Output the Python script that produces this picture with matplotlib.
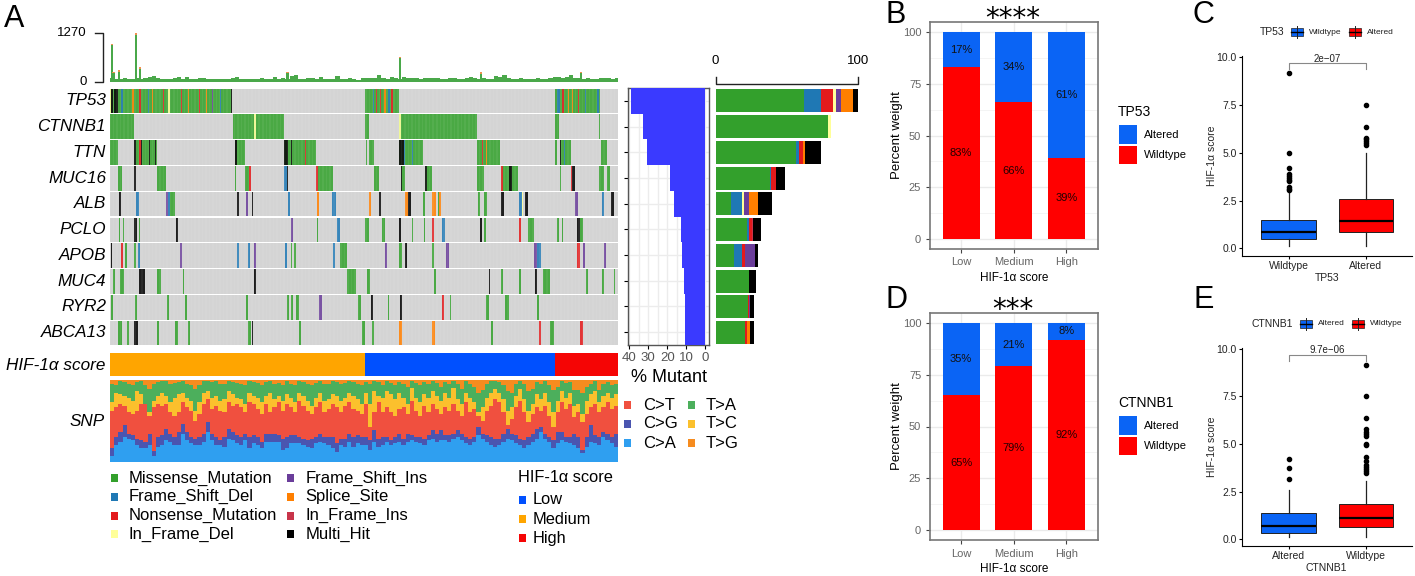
import matplotlib
matplotlib.use('Agg')
import matplotlib.pyplot as plt
from matplotlib.patches import Rectangle
import numpy as np

plt.rcParams['font.family'] = ['Liberation Sans', 'DejaVu Sans']

W, H = 1415, 576

# ── oncoplot data ──
GENES = ['TP53', 'CTNNB1', 'TTN', 'MUC16', 'ALB', 'PCLO', 'APOB', 'MUC4', 'RYR2', 'ABCA13']
N_SAMPLES = 365
PCT_MUTANT = [39.3, 33, 30.8, 18.5, 16.2, 12.7, 12, 10.9, 10.7, 10.6]

VARIANTS = ['Missense_Mutation', 'Frame_Shift_Del', 'Nonsense_Mutation', 'In_Frame_Del',
            'Frame_Shift_Ins', 'Splice_Site', 'In_Frame_Ins', 'Multi_Hit']
VAR_COLORS = ['#33a02c', '#1f78b4', '#e31a1c', '#ffff99', '#6a3d9a', '#ff7f00', '#c8344a', '#000000']
MS, DL, NS, IFD, FSI, SS, IFI, MH = range(8)

# per gene: (first sample, last sample, variant)
RUNS = {
    'TP53': [(0, 88, MS), (183, 208, MS), (320, 352, MS), (0, 1, IFD), (1, 2, MH), (3, 6, MH), (8, 9, DL),
             (16, 17, SS), (21, 22, NS), (27, 28, DL), (30, 31, SS), (38, 39, NS), (42, 43, IFD), (51, 52, NS),
             (56, 57, SS), (64, 65, NS), (69, 70, SS), (73, 74, FSI), (79, 80, DL), (87, 88, MH), (189, 190, DL),
             (191, 192, NS), (194, 195, NS), (197, 198, SS), (200, 201, DL), (202, 203, NS), (321, 323, DL),
             (325, 326, NS), (329, 330, SS), (332, 333, SS), (336, 337, NS), (341, 342, DL), (350, 351, DL)],
    'CTNNB1': [(0, 17, MS), (88.6, 125, MS), (103.6, 104.6, IFD), (183, 186, MS), (208, 264, MS), (208, 209, IFD),
               (319.5, 322.5, MS), (351, 352, MS)],
    'TTN': [(0, 6, MS), (17, 33.5, MS), (17, 19, MH), (21, 22, NS), (22, 23, MH), (28, 29, MH), (32, 33, MH),
            (89.5, 97, MS), (89.5, 91.5, MH), (125, 148, MS), (125, 128, MH), (130, 131, MH), (140, 141, NS),
            (184, 185, MS), (186, 190, MS), (208, 225, MS), (208, 211, MH), (211, 212, DL), (217, 218, DL),
            (264, 280, MS), (267, 268, NS), (270, 271, SS), (320, 321, MS), (323, 331, MS), (323, 324, MH),
            (326, 327, DL), (353, 357, MS)],
    'MUC16': [(6, 8.5, MS), (17.6, 18.6, MH), (33.5, 40, MS), (89.5, 90.5, MS), (97, 100, MS), (100, 101, NS),
              (125, 127, DL), (127, 128, MH), (148, 149.5, NS), (149.5, 160, MS), (190, 193, MS), (209, 212, MS),
              (209, 210, MH), (226, 231, MS), (226, 228, MH), (264, 269, MS), (281, 293, MS), (281, 282.5, NS),
              (287, 289, MH), (323, 324, MS), (331, 332, NS), (332, 334, MH), (351.5, 355, MS), (357, 359, MS)],
    'ALB': [(6.5, 8, MH), (19, 20.5, DL), (40.5, 42, FSI), (42, 43, DL), (43, 46.5, MS), (91, 93, MH), (97.5, 99, FSI),
            (102, 103, MH), (128, 129, DL), (148.5, 150.5, SS), (159.5, 162.5, DL), (186, 187.5, SS), (193.5, 194.5, MH),
            (212, 214, SS), (214, 216, MH), (225, 226, MS), (231.5, 234.5, SS), (235.7, 236.5, MS), (236.5, 237.5, SS),
            (264.7, 266, MS), (269, 271, MS), (280.6, 283, MH), (294, 296, DL), (296, 297, IFD), (298, 300.5, MH),
            (334, 336, FSI), (353.5, 355, DL), (360, 362, MH)],
    'PCLO': [(6.5, 7.5, MS), (9, 10, MS), (17.5, 19.5, MH), (20.5, 21.5, MS), (47.5, 49, MH), (130, 131.5, FSI),
             (148.5, 149.5, MS), (163, 165, DL), (183, 186, MS), (195.5, 197.5, MS), (208, 209, MH), (217, 218, MS),
             (225.5, 226.5, MS), (231.5, 232.5, NS), (238.5, 240.5, DL), (266, 267.5, MH), (269, 270, MS), (294, 295, NS),
             (300.5, 305, MS), (321.5, 322.5, MS), (324.5, 325.5, MS), (335.5, 338, MH), (338, 339.5, MS)],
    'APOB': [(0.5, 1.5, MH), (8, 9.5, NS), (10.5, 12, MS), (17.5, 19, MS), (20, 21.5, DL), (50, 52, FSI), (91, 92.5, DL),
             (99, 100.5, DL), (103.5, 105, FSI), (125.5, 127.5, DL), (130, 131, MS), (132.5, 134, MS), (160.5, 162, DL),
             (165.5, 170, MS), (197.5, 199, FSI), (208, 209.5, MS), (212, 213.5, MH), (231.5, 232.5, MS), (241.5, 243.5, FSI),
             (305, 307, FSI), (307, 310, DL), (335.5, 337.5, NS), (340, 341.5, FSI), (355, 356.5, FSI)],
    'MUC4': [(2, 3.5, MS), (7.5, 10, MS), (20.5, 25, MH), (33.5, 36.5, MS), (52.5, 53.5, MS), (103.5, 105, MH),
             (170.5, 177, MS), (185, 186.5, MS), (232.5, 234, MS), (272, 273, MH), (281, 282.5, MS), (294, 295.5, MS),
             (305.5, 307, MH), (311, 316, MS), (342, 343.5, MS), (353.5, 355, MS), (362, 363, MS)],
    'RYR2': [(0.5, 2, MS), (18, 19.5, MS), (41, 42.5, MS), (54, 55.5, MS), (98, 99.5, MS), (127, 128.5, MS),
             (130, 131.5, MS), (134, 135.5, MS), (150.5, 152.5, FSI), (178, 180, MS), (187.5, 189, MH), (199.5, 200.5, MS),
             (208.5, 209.5, MH), (238.5, 240, NS), (244, 245, MS), (270.5, 272, MS), (283.5, 287, MS), (306.5, 308, MS)],
    'ABCA13': [(6, 8.5, MS), (12, 13.5, MS), (17.5, 20, MH), (34, 35.5, MS), (47, 48.5, MS), (56, 57.5, MS), (99.5, 101, MS),
               (102, 103, MH), (135.5, 137, MS), (181, 183, MS), (188, 189.5, MS), (208, 209.5, SS), (231.5, 233.5, SS),
               (273.5, 275, MS), (308, 309.5, NS), (316.5, 319, MS), (337.5, 339.5, NS)],
}

# percent of samples by variant, same order as VARIANTS
MISSENSE_PCT = [61.8, 78.9, 56.2, 37.9, 10.5, 21.8, 12.6, 23.7, 22.7, 20.6]
FS_DEL_PCT = [12, 0, 2.3, 0.7, 8, 1.9, 5.9, 0, 0, 0]
NONSENSE_PCT = [8.9, 0, 2.8, 4, 0, 1.9, 2.1, 0, 0.9, 1.4]
IF_DEL_PCT = [1.8, 2.1, 0, 0, 1.6, 0, 0, 0, 0, 0]
FS_INS_PCT = [3.3, 0, 0, 0, 3.5, 0, 7.3, 0, 0.7, 0]
SPLICE_PCT = [8.5, 0, 1.4, 0, 6, 0, 0, 0, 0, 2.3]
IF_INS_PCT = [0.5, 0, 0, 0, 0, 0.9, 0, 0, 0, 0]
MULTI_PCT = [3.2, 0, 11.2, 6.1, 10, 5.2, 1.9, 4.9, 2.6, 2.6]
VAR_PCT = [MISSENSE_PCT, FS_DEL_PCT, NONSENSE_PCT, IF_DEL_PCT, FS_INS_PCT, SPLICE_PCT, IF_INS_PCT, MULTI_PCT]

# mutation load, bins of 3 samples, plus the single tall samples
TMB_BINS = [100, 90, 80, 110, 90, 85, 100, 90, 105, 130, 160, 100, 90, 80, 85, 100, 125, 90, 135, 90,
            85, 100, 110, 90, 80, 75, 85, 90, 80, 100, 135, 90, 80, 70, 85, 90, 100, 80, 90, 135,
            85, 110, 90, 160, 170, 90, 80, 100, 95, 75, 130, 85, 80, 90, 160, 90, 90, 105, 80, 60,
            100, 105, 110, 100, 170, 105, 90, 130, 100, 90, 140, 110, 100, 105, 90, 100, 110, 95, 100, 90,
            85, 110, 95, 80, 90, 100, 140, 105, 90, 100, 80, 90, 160, 130, 170, 100, 90, 80, 110, 90,
            65, 90, 100, 80, 90, 110, 135, 125, 100, 140, 170, 110, 100, 90, 100, 90, 85, 105, 110, 100, 90, 100]
SPIKE_SAMPLES = [1, 2, 6, 18, 21, 127, 208, 266, 338]
SPIKE_VALUES = [950, 230, 260, 1230, 340, 230, 610, 220, 225]

# SNP tops of the stacked classes in percent, bins of 3 samples
SNP_CA_TOP = [7, 20, 24, 30, 28, 26, 20, 16, 16, 20, 7, 18, 20, 26, 24, 20, 20, 34, 26, 22, 20, 20, 24, 36, 26, 20, 20, 18, 28, 26, 22,
              20, 26, 16, 22, 20, 16, 24, 24, 24, 24, 14, 16, 22, 22, 22, 20, 18, 16, 22, 24, 22, 20, 16, 12, 20, 18, 24, 18, 22, 20,
              20, 14, 24, 18, 20, 24, 20, 22, 24, 20, 24, 26, 24, 22, 20, 26, 28, 24, 26, 26, 24, 28, 30, 26, 22, 20, 24, 32, 28, 24,
              20, 18, 20, 24, 28, 26, 22, 20, 16, 20, 24, 28, 36, 28, 24, 16, 22, 26, 24, 22, 20, 16, 10, 18, 24, 22, 20, 30, 26, 22, 18]
SNP_CG_TOP = [17, 30, 36, 44, 33, 32, 28, 26, 24, 34, 13, 30, 32, 40, 34, 30, 36, 46, 36, 30, 28, 30, 34, 48, 34, 30, 26, 30, 40, 36, 32,
              30, 34, 30, 32, 30, 24, 33, 33, 33, 32, 28, 30, 32, 32, 30, 28, 26, 28, 30, 34, 30, 30, 30, 22, 28, 28, 34, 30, 32, 30,
              30, 26, 38, 28, 30, 30, 26, 30, 34, 28, 34, 32, 30, 30, 28, 32, 38, 34, 38, 32, 32, 34, 38, 34, 30, 28, 30, 42, 34, 32,
              30, 28, 28, 34, 40, 34, 32, 28, 26, 30, 34, 40, 42, 34, 30, 26, 36, 36, 30, 30, 34, 30, 14, 30, 44, 32, 30, 36, 34, 30, 34]
SNP_CT_TOP = [62, 66, 70, 68, 60, 58, 62, 70, 72, 56, 66, 70, 68, 70, 60, 56, 60, 72, 66, 62, 50, 58, 70, 76, 64, 68, 62, 60, 72, 68, 70,
              66, 60, 72, 70, 64, 58, 70, 60, 66, 72, 62, 70, 66, 60, 74, 68, 62, 58, 66, 72, 60, 64, 70, 66, 60, 68, 72, 64, 62, 58,
              70, 42, 60, 72, 60, 66, 60, 56, 64, 66, 58, 74, 62, 56, 68, 60, 70, 64, 58, 66, 62, 70, 62, 56, 72, 60, 64, 56, 50, 62,
              68, 76, 72, 60, 44, 52, 66, 74, 60, 48, 58, 66, 62, 68, 56, 42, 60, 72, 64, 70, 54, 60, 48, 58, 66, 70, 60, 66, 72, 64, 68]
SNP_TC_TOP = [72, 84, 82, 80, 78, 74, 86, 82, 70, 60, 74, 80, 84, 80, 72, 78, 82, 84, 78, 74, 62, 72, 84, 86, 78, 80, 74, 76, 86, 82, 78,
              76, 70, 84, 80, 78, 72, 80, 84, 76, 80, 74, 82, 78, 72, 84, 80, 74, 68, 78, 84, 74, 76, 82, 80, 74, 78, 84, 80, 76, 70,
              84, 70, 86, 80, 78, 86, 82, 76, 84, 78, 70, 90, 78, 72, 82, 78, 86, 80, 74, 84, 78, 90, 76, 70, 84, 78, 72, 60, 66, 78,
              84, 88, 84, 76, 62, 66, 80, 88, 76, 62, 70, 82, 76, 84, 72, 60, 74, 86, 78, 84, 68, 70, 58, 74, 82, 86, 72, 80, 84, 78, 82]
SNP_TA_TOP = [95, 93, 98, 97, 95, 93, 97, 98, 93, 88, 95, 97, 98, 98, 95, 96, 97, 98, 95, 93, 88, 93, 98, 98, 97, 98, 95, 95, 98, 97, 96,
              95, 93, 98, 97, 96, 93, 97, 98, 95, 96, 93, 98, 95, 93, 98, 97, 94, 93, 96, 98, 95, 95, 98, 97, 95, 96, 98, 97, 95, 93,
              97, 95, 98, 97, 93, 98, 96, 93, 97, 95, 91, 98, 96, 93, 97, 95, 98, 96, 91, 97, 95, 98, 95, 89, 98, 95, 91, 84, 87, 95,
              98, 98, 97, 93, 86, 84, 95, 98, 95, 86, 89, 97, 95, 98, 93, 87, 91, 98, 96, 97, 87, 87, 84, 91, 95, 98, 87, 95, 97, 93, 95]
SNP_TOPS = [SNP_CA_TOP, SNP_CG_TOP, SNP_CT_TOP, SNP_TC_TOP, SNP_TA_TOP]
SNP_LABELS = ['C>A', 'C>G', 'C>T', 'T>C', 'T>A', 'T>G']
SNP_COLORS = ['#2f9ff0', '#4a55b0', '#f0503f', '#fbc02d', '#4caf5c', '#f68c1f']

HIF_GROUPS = ['Medium', 'Low', 'High']
HIF_COUNTS = [183, 137, 45]
HIF_COLORS = {'Low': '#0050ff', 'Medium': '#ffa500', 'High': '#f50505'}

# ── B / D data ──
SCORE_CATS = ['Low', 'Medium', 'High']
TP53_ALTERED = [17, 34, 61]
TP53_WILD = [83, 66, 39]
CTNNB1_ALTERED = [35, 21, 8]
CTNNB1_WILD = [65, 79, 92]
BLUE, RED = '#0a64f5', '#ff0000'

# ── C / E data ──
TP53_BOX_CATS = ['Wildtype', 'Altered']
TP53_BOX = [(0.12, 0.49, 0.87, 1.48, 2.88), (0.14, 0.87, 1.45, 2.6, 5.0)]
TP53_FLIERS = [[9.17, 5.0, 4.2, 3.9, 3.8, 3.7, 3.6, 3.5, 3.2, 3.1, 3.05], [7.5, 6.35, 5.8, 5.7, 5.6, 5.5, 5.4]]
CTNNB1_BOX_CATS = ['Altered', 'Wildtype']
CTNNB1_BOX = [(0.12, 0.35, 0.70, 1.36, 2.59), (0.14, 0.65, 1.14, 1.84, 3.06)]
CTNNB1_FLIERS = [[4.2, 3.75, 3.15], [9.17, 7.5, 6.35, 5.8, 5.65, 5.5, 5.4, 5.0, 4.95, 4.3, 4.1, 3.9, 3.8, 3.7, 3.6, 3.5]]


def px_axes(x0, y0, x1, y1):
    """axes from pixel box, y counted from the top"""
    return fig.add_axes([x0 / W, 1 - y1 / H, (x1 - x0) / W, (y1 - y0) / H])


def txt(x, y, s, size=10, color='black', ha='left', va='center', **kw):
    fig.text(x / W, 1 - y / H, s, fontsize=size, color=color, ha=ha, va=va, **kw)


def square(x0, y0, x1, y1, color, **kw):
    fig.add_artist(Rectangle((x0 / W, 1 - y1 / H), (x1 - x0) / W, (y1 - y0) / H,
                             transform=fig.transFigure, facecolor=color, edgecolor='none', **kw))


fig = plt.figure(figsize=(W / 100, H / 100), dpi=100)

# ── A: mutation load on top ──
ax = px_axes(110, 33, 618, 82)
ax.bar(np.arange(len(TMB_BINS)) * 3 + 1.5, TMB_BINS, width=3, color='#4aa84a', linewidth=0)
ax.bar(np.array(SPIKE_SAMPLES) + 0.5, SPIKE_VALUES, width=1.6, color='#4aa84a', linewidth=0)
ax.bar(np.array(SPIKE_SAMPLES) + 0.5, 40, bottom=SPIKE_VALUES, width=1.6, color='#f09050', linewidth=0)
ax.set_xlim(0, N_SAMPLES)
ax.set_ylim(0, 1270)
ax.axis('off')
fig.add_artist(plt.Line2D([95 / W, 103 / W, 103 / W, 95 / W], [1 - 33 / H, 1 - 33 / H, 1 - 82 / H, 1 - 82 / H],
                          color='#222222', lw=1))
txt(87, 33, '1270', 9.5, ha='right')
txt(87, 82, '0', 9.5, ha='right')

# ── A: mutation matrix ──
ax = px_axes(110, 88, 618, 346)
for i, gene in enumerate(GENES):
    ax.barh(i, N_SAMPLES, left=0, height=0.95, color='#d2d2d2', linewidth=0)
    for start, end, var in RUNS[gene]:
        ax.barh(i, end - start, left=start, height=0.95, color=VAR_COLORS[var], linewidth=0, alpha=0.92)
    txt(106, 88 + 25.75 * (i + 0.5), gene, 12.3, ha='right', style='italic')
ax.vlines(np.arange(N_SAMPLES), -0.5, 9.5, color='white', lw=0.25, alpha=0.35)
ax.set_xlim(0, N_SAMPLES)
ax.set_ylim(9.5, -0.5)
ax.axis('off')

# ── A: % mutant ──
ax = px_axes(627.5, 88, 709, 345)
ax.barh(range(10), PCT_MUTANT, height=1.0, color='#3a3aff', linewidth=0, zorder=3)
ax.set_xlim(41, -2.1)
ax.set_ylim(9.5, -0.5)
ax.set_xticks([40, 30, 20, 10, 0])
ax.set_xticks([35, 25, 15, 5], minor=True)
ax.set_yticks(range(10))
ax.set_yticklabels([])
ax.grid(True, which='both', color='#ececec', lw=1, zorder=0)
ax.tick_params(axis='x', which='minor', length=0)
ax.tick_params(axis='x', length=3, labelsize=9.5, labelcolor='#555555', pad=2, width=0.8)
ax.tick_params(axis='y', length=3, width=0.8)
for s in ax.spines.values():
    s.set_color('#555555')
    s.set_linewidth(1)
txt(669, 377, '% Mutant', 13, ha='center')

# ── A: stacked variant percent ──
ax = px_axes(715.7, 88, 858, 345.5)
left = np.zeros(10)
for vals, col in zip(VAR_PCT, VAR_COLORS):
    ax.barh(range(10), vals, left=left, height=0.9, color=col, linewidth=0)
    left += np.array(vals)
ax.set_xlim(0, 100)
ax.set_ylim(9.5, -0.5)
ax.axis('off')
fig.add_artist(plt.Line2D([715.7 / W, 715.7 / W, 858 / W, 858 / W], [1 - 77 / H, 1 - 84 / H, 1 - 84 / H, 1 - 77 / H],
                          color='#222222', lw=1))
txt(715, 61, '0', 9.5, ha='center')
txt(858, 61, '100', 9.5, ha='center')

# ── A: HIF-1a score strip ──
ax = px_axes(110, 353, 618, 376)
start = 0
for grp, n in zip(HIF_GROUPS, HIF_COUNTS):
    ax.barh(0, n, left=start, height=1, color=HIF_COLORS[grp], linewidth=0)
    start += n
ax.set_xlim(0, N_SAMPLES)
ax.set_ylim(-0.5, 0.5)
ax.axis('off')
txt(105, 366, 'HIF-1α score', 12.3, ha='right', style='italic')

# ── A: SNP ──
ax = px_axes(110, 379.5, 618, 461.5)
tops = np.array(SNP_TOPS, dtype=float)
bw = N_SAMPLES / tops.shape[1]
xs = (np.arange(tops.shape[1]) + 0.5) * bw
bottom = np.zeros(tops.shape[1])
for row, col in zip(tops, SNP_COLORS):
    ax.bar(xs, row - bottom, bottom=bottom, width=bw * 1.02, color=col, linewidth=0)
    bottom = row
ax.bar(xs, 100 - bottom, bottom=bottom, width=bw * 1.02, color=SNP_COLORS[5], linewidth=0)
ax.set_xlim(0, N_SAMPLES)
ax.set_ylim(0, 100)
ax.axis('off')
txt(105, 421, 'SNP', 12.3, ha='right', style='italic')

# ── A: legends ──
for i, k in enumerate([2, 1, 0]):
    y = 405 + 19 * i
    square(624, y - 4, 631, y + 4, SNP_COLORS[k])
    txt(643, y, SNP_LABELS[k], 12)
for i, k in enumerate([4, 3, 5]):
    y = 405 + 19 * i
    square(688, y - 4, 695, y + 4, SNP_COLORS[k])
    txt(706, y, SNP_LABELS[k], 12)

for i, (lab, col) in enumerate(zip(VARIANTS, VAR_COLORS)):
    cx, tx = (111, 128.5) if i < 4 else (287, 305.5)
    y = 478 + 18.8 * (i % 4)
    square(cx, y - 4, cx + 7, y + 4, col)
    txt(tx, y, lab, 12)

txt(518, 478, 'HIF-1α score', 11.8)
for i, grp in enumerate(SCORE_CATS):
    y = 500 + 19 * i
    square(519, y - 4, 526, y + 4, HIF_COLORS[grp])
    txt(533, y, grp, 11.8)


# ── B / D ──
def stacked_panel(y0, y1, altered, wild, stars, star_y, name, legend_y):
    ax = px_axes(929.5, y0, 1098, y1)
    x = np.arange(1, 4)
    ax.bar(x, wild, width=0.7, color=RED, linewidth=0, zorder=3)
    ax.bar(x, altered, bottom=wild, width=0.7, color=BLUE, linewidth=0, zorder=3)
    for xi, a, w in zip(x, altered, wild):
        ax.text(xi, w + a / 2, f'{a}%', ha='center', va='center', fontsize=8, color='#111111', zorder=4)
        ax.text(xi, w / 2, f'{w}%', ha='center', va='center', fontsize=8, color='#220000', zorder=4)
    ax.set_xlim(0.4, 3.6)
    ax.set_ylim(-5, 105)
    ax.set_xticks(x)
    ax.set_xticklabels(SCORE_CATS)
    ax.set_yticks([0, 25, 50, 75, 100])
    ax.set_yticks([12.5, 37.5, 62.5, 87.5], minor=True)
    ax.grid(True, which='major', color='#ebebeb', lw=1, zorder=0)
    ax.grid(True, which='minor', axis='y', color='#f2f2f2', lw=0.6, zorder=0)
    ax.tick_params(axis='both', which='major', labelsize=8, labelcolor='#666666', length=3, color='#444444', pad=3)
    ax.tick_params(axis='both', which='minor', length=0)
    for s in ax.spines.values():
        s.set_color('#777777')
        s.set_linewidth(1.2)
    ax.set_xlabel('HIF-1α score', fontsize=8.5, labelpad=3)
    ax.set_ylabel('Percent weight', fontsize=9.5, labelpad=0)
    txt(1013, star_y, stars, 20, ha='center', family='DejaVu Sans')
    txt(1118, legend_y, name, 10)
    square(1118.5, legend_y + 13, 1137, legend_y + 32, BLUE)
    square(1118.5, legend_y + 34, 1137, legend_y + 52, RED)
    txt(1144, legend_y + 23, 'Altered', 8)
    txt(1144, legend_y + 43, 'Wildtype', 8)


stacked_panel(22, 249, TP53_ALTERED, TP53_WILD, '****', 19, 'TP53', 112)
stacked_panel(312.7, 540.3, CTNNB1_ALTERED, CTNNB1_WILD, '***', 310, 'CTNNB1', 403)


# ── C / E ──
def box_panel(y10, y0, ybottom, cats, stats, fliers, name, pval):
    scale = (y0 - y10) / 10.0
    ax = px_axes(1241.7, y10 - 1, 1411.6, ybottom)
    items = []
    for lab, st, fl in zip(cats, stats, fliers):
        items.append(dict(label=lab, whislo=st[0], q1=st[1], med=st[2], q3=st[3], whishi=st[4], fliers=fl))
    art = ax.bxp(items, positions=[1, 2], widths=0.7, patch_artist=True, showcaps=False,
                 flierprops=dict(marker='o', markerfacecolor='black', markeredgecolor='black', markersize=3),
                 medianprops=dict(color='black', lw=1.6),
                 whiskerprops=dict(color='#222222', lw=0.9),
                 boxprops=dict(edgecolor='#222222', lw=0.7))
    for patch, col in zip(art['boxes'], [BLUE, RED]):
        patch.set_facecolor(col)
    ax.plot([1, 1, 2, 2], [9.37, 9.69, 9.69, 9.37], color='#888888', lw=0.8)
    ax.text(1.5, 9.92, pval, ha='center', va='center', fontsize=7, color='#222222')
    ax.set_xlim(0.395, 2.59)
    ax.set_ylim(-(ybottom - y0) / scale, 10 + 1 / scale)
    ax.set_yticks([0, 2.5, 5, 7.5, 10])
    ax.set_yticklabels(['0.0', '2.5', '5.0', '7.5', '10.0'])
    ax.tick_params(axis='both', labelsize=7.5, length=2.5, pad=1, labelcolor='#222222', width=0.8)
    ax.spines['top'].set_visible(False)
    ax.spines['right'].set_visible(False)
    ax.set_xlabel(name, fontsize=7.5, labelpad=1.5, color='#222222')
    ax.set_ylabel('HIF-1α score', fontsize=7.5, labelpad=0, color='#222222')


def box_legend(y, name, name_x, key1, lab1, key2, lab2):
    txt(name_x, y, name, 7.5, color='#222222')
    for kx, lab, col in [(key1, lab1, BLUE), (key2, lab2, RED)]:
        fig.add_artist(plt.Line2D([(kx + 6) / W] * 2, [1 - (y - 6) / H, 1 - (y + 6) / H], color='#222222', lw=0.7))
        fig.add_artist(Rectangle((kx / W, 1 - (y + 4) / H), 12 / W, 8 / H, transform=fig.transFigure,
                                 facecolor=col, edgecolor='#222222', lw=0.5))
        fig.add_artist(plt.Line2D([kx / W, (kx + 12) / W], [1 - y / H] * 2, color='black', lw=1))
        txt(kx + 18, y, lab, 6, color='#222222')


box_panel(57.3, 248.3, 255.7, TP53_BOX_CATS, TP53_BOX, TP53_FLIERS, 'TP53', '2e−07')
box_legend(32.3, 'TP53', 1260, 1291, 'Wildtype', 1349, 'Altered')
box_panel(348.7, 539.3, 546, CTNNB1_BOX_CATS, CTNNB1_BOX, CTNNB1_FLIERS, 'CTNNB1', '9.7e−06')
box_legend(323.7, 'CTNNB1', 1251, 1299.5, 'Altered', 1352, 'Wildtype')

# ── panel letters ──
for lab, x, y in [('A', 4, 19), ('B', 885, 15), ('C', 1193, 15), ('D', 885, 300), ('E', 1193, 300)]:
    txt(x, y, lab, 22)

fig.savefig('out.png', dpi=100)
